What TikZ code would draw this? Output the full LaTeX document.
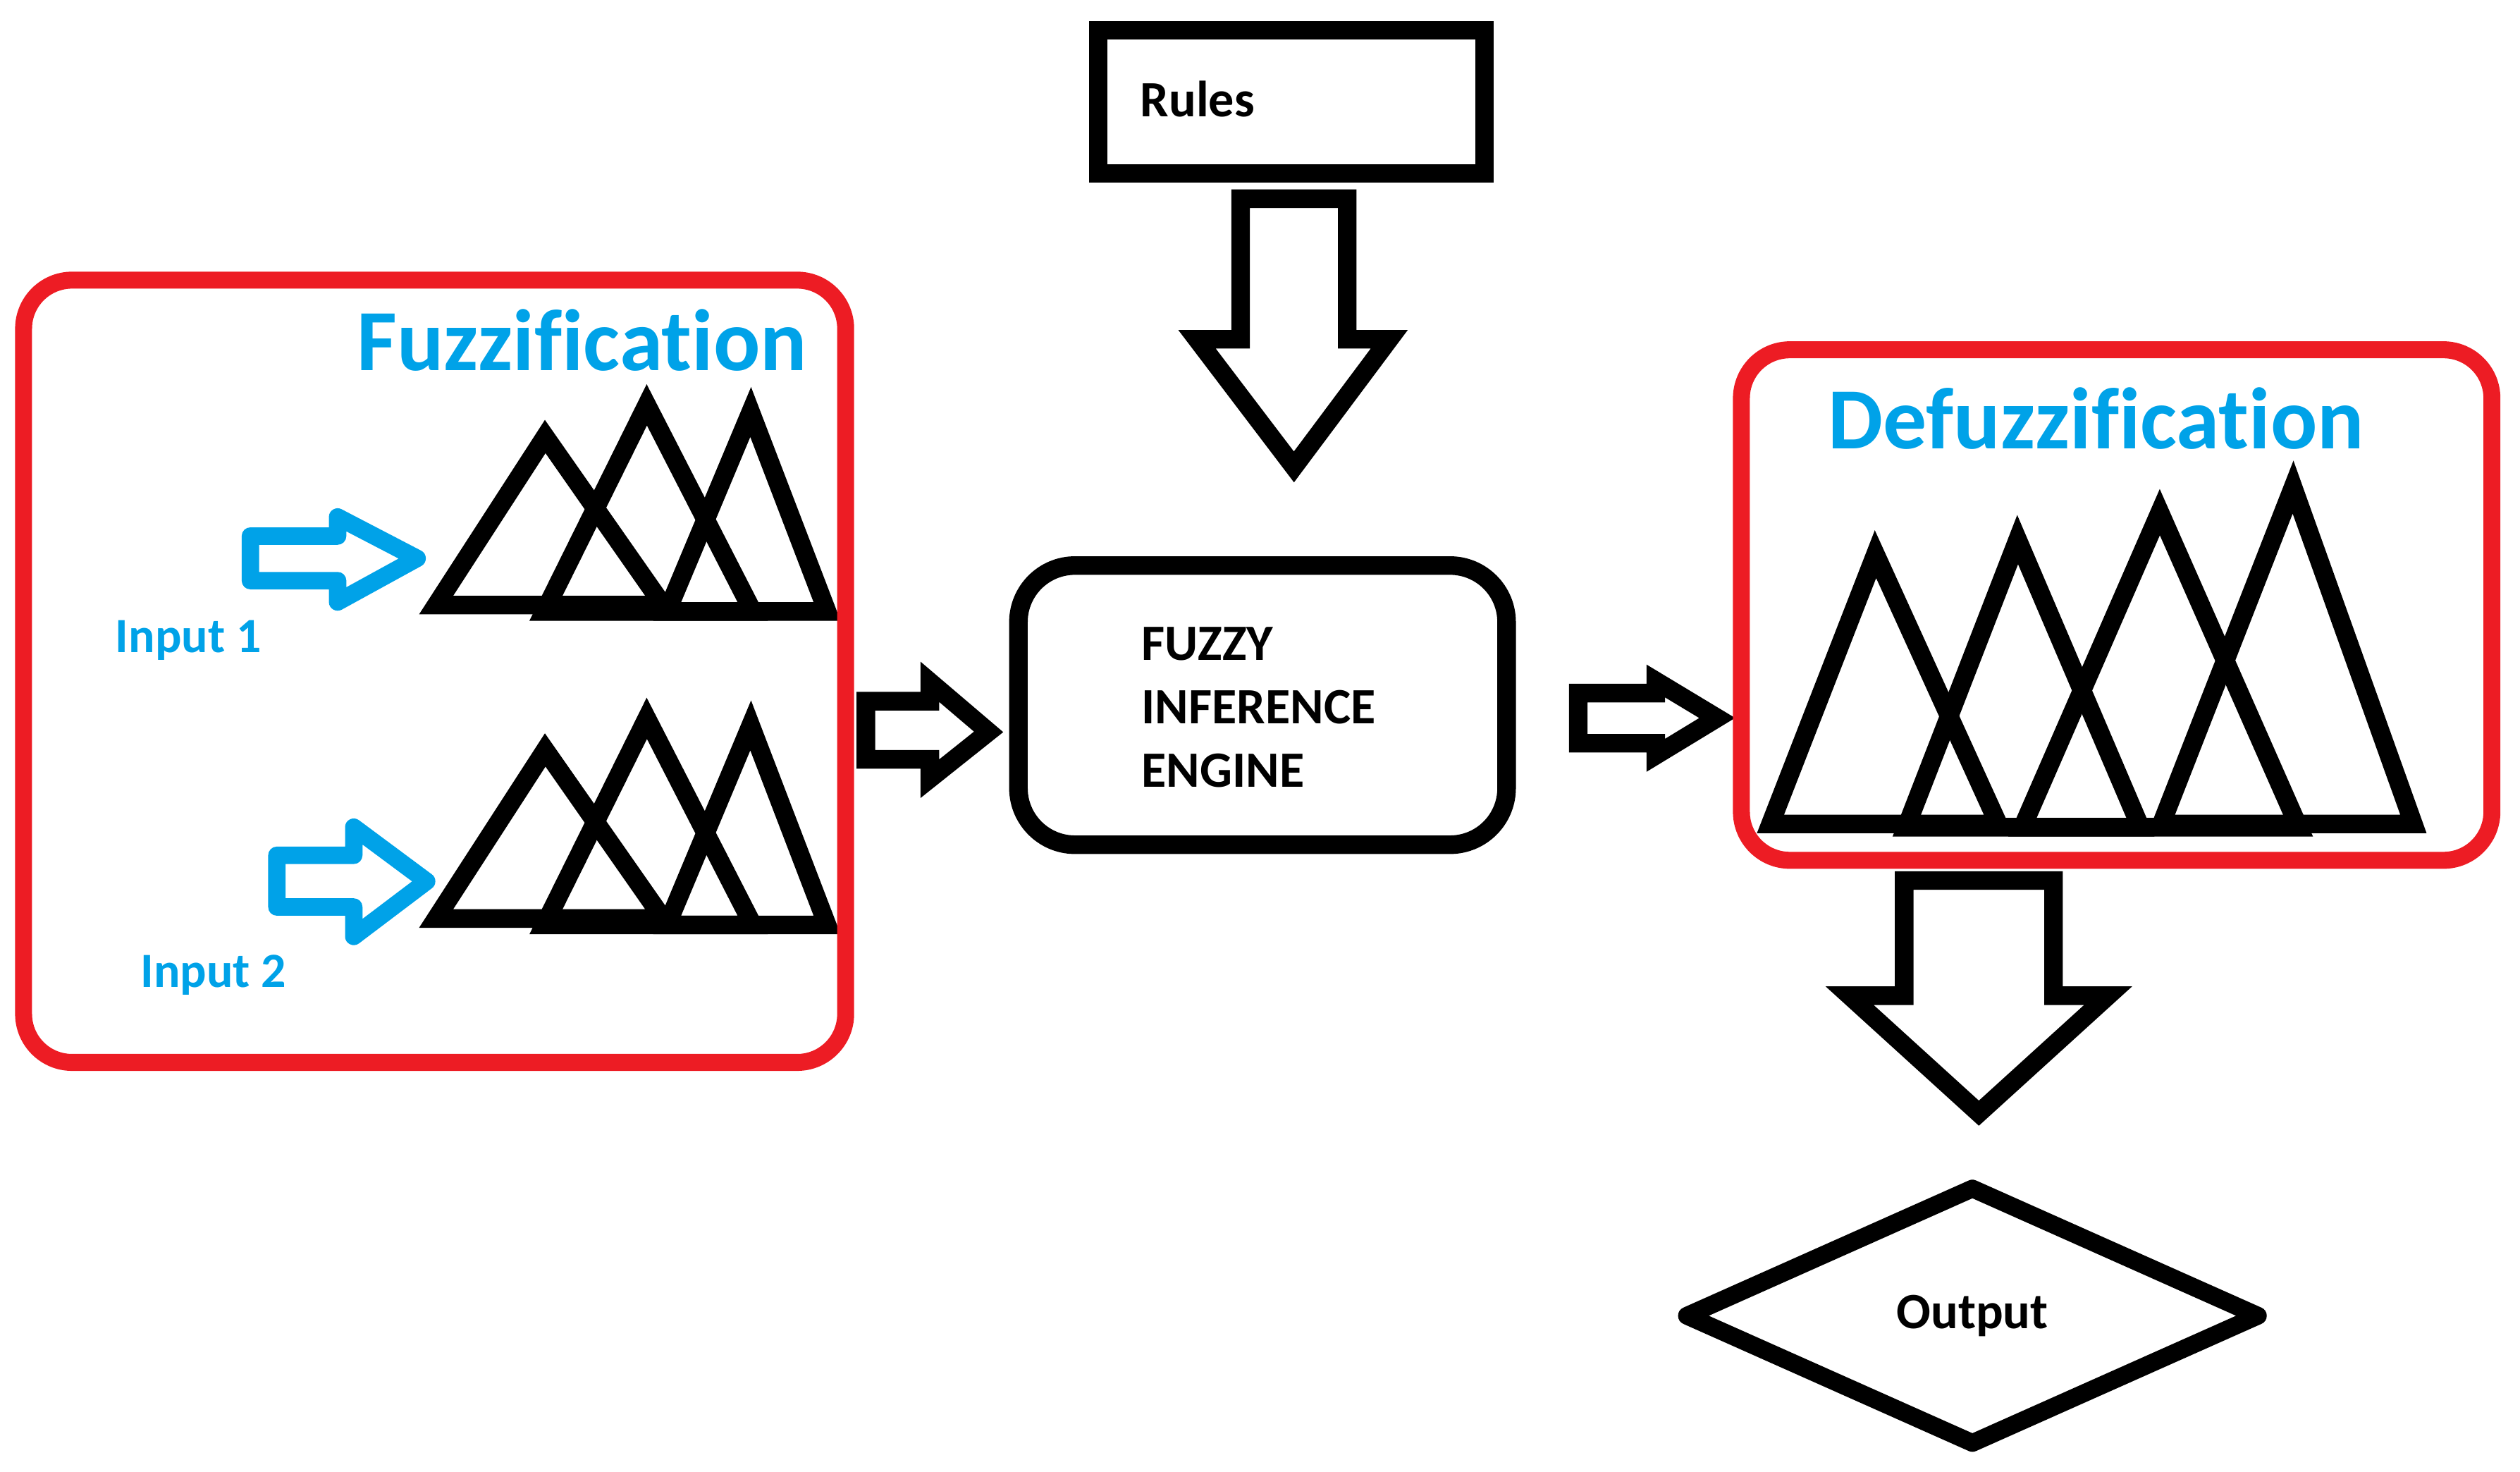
\documentclass[tikz,border=0pt]{standalone}
\usepackage{fontspec}
\setmainfont{Carlito}[Ligatures=NoCommon]
\usetikzlibrary{shapes.geometric}
\definecolor{pred}{HTML}{ED1C24}
\definecolor{pblue}{HTML}{00A2E8}
\begin{document}
\begin{tikzpicture}[x=1pt,y=-1pt,
  blk/.style={draw=black, line width=11.5pt, fill=white, line join=miter, inner sep=0pt},
  blkarrow/.style={draw=black, line width=11.5pt, fill=white, line join=miter, miter limit=4},
  bluearrow/.style={draw=pblue, line width=10.8pt, fill=white, line join=round},
  redbox/.style={draw=pred, line width=10.5pt, rounded corners=30pt, inner sep=0pt},
  tri/.style={draw=black, line width=11.5pt, line join=miter, miter limit=4},
  btxt/.style={font=\bfseries\fontsize{31.5}{38}\selectfont, inner sep=0pt},
  ttl/.style={font=\bfseries\fontsize{54}{60}\selectfont, text=pblue, inner sep=0pt},
  inp/.style={font=\bfseries\fontsize{30.5}{36}\selectfont, text=pblue, inner sep=0pt}]
\useasboundingbox (0,0) rectangle (1560,911.1);

% ---- Rules box and arrow
\node[blk, minimum width=239.1pt, minimum height=88.5pt] (rules) at (799.3,63) {};
\node[btxt, anchor=base west] (rulest) at (705.7,72) {Rules};
\draw[blkarrow] (768,123) -- (834,123) -- (834,210) -- (860,210) -- (801,289) -- (741,210) -- (768,210) -- cycle;

% ---- Engine
\node[blk, rounded corners=35pt, minimum width=302.2pt, minimum height=172.8pt] (engine) at (781.55,436.45) {};
\node[btxt, anchor=base west] (eng1) at (706.5,408.7) {FUZZY};
\node[btxt, anchor=base west] (eng2) at (706.5,448) {INFERENCE};
\node[btxt, anchor=base west] (eng3) at (706.5,487) {ENGINE};

% ---- Fuzzification triangles
\foreach \dy in {0,194} {
  \begin{scope}[yshift=-\dy pt]
  \draw[tri] (270,374.5) -- (337.5,270.2) -- (410.4,374.5) -- cycle;
  \draw[tri] (337,378.5) -- (400.4,250.6) -- (466,378.5) -- cycle;
  \draw[tri] (413,378.5) -- (464.7,255) -- (512,378.5) -- cycle;
  \end{scope}
}
% ---- input arrows
\draw[bluearrow] (155,331.8) -- (209,331.8) -- (209,320) -- (258.2,345.6) -- (209,372.6) -- (209,359.4) -- (155,359.4) -- cycle;
\draw[bluearrow] (171.4,529.4) -- (219,529.4) -- (219,512) -- (264.1,545.5) -- (219,579.6) -- (219,561.4) -- (171.4,561.4) -- cycle;
\node[inp, anchor=base west] (in1) at (71.3,403.9) {Input 1};
\node[inp, anchor=base west] (in2) at (86.9,611) {Input 2};

% ---- arrows between blocks
\draw[blkarrow] (536,434) -- (575.6,434) -- (575.6,422) -- (612,453) -- (575.6,482) -- (575.6,470) -- (536,470) -- cycle;
\draw[blkarrow] (977,429) -- (1025,429) -- (1025,421.5) -- (1063,444.4) -- (1025,467.5) -- (1025,460) -- (977,460) -- cycle;

% ---- Defuzzification triangles
\draw[tri] (1096,510) -- (1161,343) -- (1237,510) -- cycle;
\draw[tri] (1180,512) -- (1249,334) -- (1325,512) -- cycle;
\draw[tri] (1252,512) -- (1337,317) -- (1423,512) -- cycle;
\draw[tri] (1338,510) -- (1419.5,301.5) -- (1494,510) -- cycle;

% ---- output arrow and diamond
\draw[blkarrow] (1178.75,545) -- (1271.25,545) -- (1271.25,616.3) -- (1305,616.3) -- (1225,689) -- (1145,616.3) -- (1178.75,616.3) -- cycle;
\node[diamond, draw=black, line width=11pt, line join=round, minimum width=358pt, minimum height=162pt, inner sep=0pt, btxt] (out) at (1221,814.4) {Output};

% ---- red boxes and titles
\node[redbox, minimum width=508.9pt, minimum height=484.2pt] (fuzz) at (269.05,415.5) {};
\node[redbox, minimum width=464.6pt, minimum height=316pt] (defuzz) at (1310.3,374.5) {};
\node[ttl, anchor=base west] (fuzzt) at (220.8,229.5) {Fuzzification};
\node[ttl, anchor=base west] (defuzzt) at (1131.5,277.6) {Defuzzification};
\end{tikzpicture}
\end{document}
